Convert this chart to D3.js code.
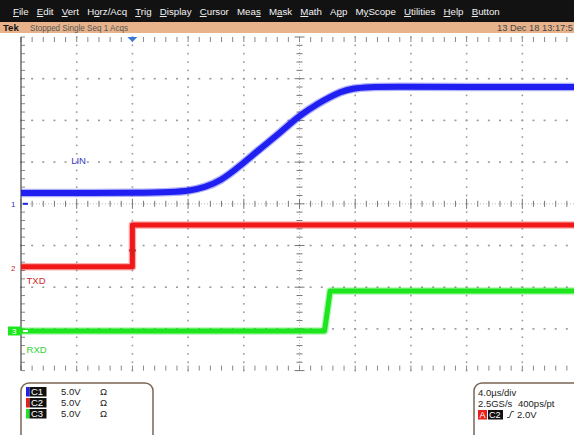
<!doctype html>
<html>
<head>
<meta charset="utf-8">
<style>
  body { margin: 0; background: #fff; }
  svg { display: block; font-family: "Liberation Sans", Arial, sans-serif; }
</style>
<script src="https://d3js.org/d3.v7.min.js"></script>
</head>
<body>
<svg width="574" height="435" id="scope"></svg>
<script>
// ---- data (time in us from trigger, volts) ----
var menuItems = ["File", "Edit", "Vert", "Horz/Acq", "Trig", "Display", "Cursor", "Meas", "Mask", "Math", "App", "MyScope", "Utilities", "Help", "Button"];
var menuKeys  = [0, 0, 0, 1, 0, 0, 0, 3, 1, 0, 1, 1, 0, 0, 0];

var linTime  = [-8, 1.2, 2.7, 4.1, 5.2, 6.3, 7.7, 9.1, 10.6, 12.0, 13.4, 14.2, 14.9, 15.8, 17.0, 18.5, 24, 32];
var linVolts = [1.3, 1.3, 1.4, 1.55, 2.0, 2.7, 4.5, 6.5, 8.5, 10.6, 12.1, 12.8, 13.4, 13.85, 14.0, 14.05, 14.0, 14.0];

var txdTime  = [-8, 0, 0, 32];
var txdVolts = [0.1, 0.1, 5.1, 5.1];

var rxdTime  = [-8, 13.8, 14.2, 32];
var rxdVolts = [0, 0, 4.8, 4.8];

var channels = ["C1", "C2", "C3"];
var chNames  = ["LIN", "TXD", "RXD"];
var chScale  = ["5.0V", "5.0V", "5.0V"];
var chOffset = [0, -1.53, -3.05];   // ground marker, in divisions
var horzInfo = ["4.0\u00b5s/div", "2.5GS/s", "400ps/pt"];
var trigLevel = 2.0;

var colors = { C1: "#1f1ff2", C2: "#f01818", C3: "#1ee61e" };
var labelColors = { C1: "#3535c8", C2: "#cc2a2a", C3: "#2fd02f" };

var svg = d3.select("#scope");

// screen: 10 x 8 divisions
var plotLeft = 21, plotTop = 37, divW = 55.7, divH = 41.7;
var x = d3.scaleLinear().domain([-8, 32]).range([plotLeft, plotLeft + 10 * divW]);
var y = d3.scaleLinear().domain([-4, 4]).range([plotTop + 8 * divH, plotTop]);
function vy(ch, v) { return y(v / 5 + chOffset[ch]); }

// ---- menu bar ----
svg.append("rect").attr("x", 0).attr("y", 0).attr("width", 574).attr("height", 22).attr("fill", "#121212");
var mx = 13;
menuItems.forEach(function(m, i) {
  var t = svg.append("text").attr("x", mx).attr("y", 15).attr("fill", "#f2f2f2").attr("font-size", "9.7px");
  var k = menuKeys[i];
  if (k > 0) t.append("tspan").text(m.slice(0, k));
  t.append("tspan").attr("text-decoration", "underline").text(m.slice(k, k + 1));
  t.append("tspan").text(m.slice(k + 1));
  mx += t.node().getComputedTextLength() + 8.2;
});

// ---- status bar ----
svg.append("rect").attr("x", 0).attr("y", 22).attr("width", 574).attr("height", 11).attr("fill", "#e8b38b");
svg.append("text").attr("x", 3).attr("y", 31).attr("font-size", "9.5px").attr("font-weight", "bold").attr("fill", "#111").text("Tek");
svg.append("text").attr("x", 30).attr("y", 31).attr("font-size", "9.5px").attr("fill", "#555")
  .attr("textLength", 98).attr("lengthAdjust", "spacingAndGlyphs").text("Stopped Single Seq 1 Acqs");
svg.append("text").attr("x", 497).attr("y", 31).attr("font-size", "9.5px").attr("fill", "#444")
  .attr("textLength", 76).attr("lengthAdjust", "spacingAndGlyphs").text("13 Dec 18 13:17:5");

// ---- graticule ----
var g = svg.append("g");
var majX = d3.range(-8, 32.01, 4), minX = d3.range(-8, 32.01, 0.8);
var majY = d3.range(-4, 4.01, 1),  minY = d3.range(-4, 4.01, 0.2);
var gridCol = "#9a9a9a";

// dotted division lines
majY.forEach(function(d) {
  if (d === 0 || d === 4 || d === -4) return;
  minX.forEach(function(t) {
    g.append("rect").attr("x", x(t) - 1).attr("y", y(d) - 0.8).attr("width", 2).attr("height", 1.6).attr("fill", gridCol);
  });
});
majX.forEach(function(t) {
  if (t === 12 || t === -8) return;
  minY.forEach(function(d) {
    g.append("rect").attr("x", x(t) - 0.8).attr("y", y(d) - 0.8).attr("width", 1.6).attr("height", 1.6).attr("fill", gridCol);
  });
});

// centre lines with ticks
g.append("line").attr("x1", x(-8)).attr("x2", x(32)).attr("y1", y(0)).attr("y2", y(0)).attr("stroke", "#bbb").attr("stroke-dasharray", "1,2");
g.append("line").attr("x1", x(12)).attr("x2", x(12)).attr("y1", y(4)).attr("y2", y(-4)).attr("stroke", "#bbb").attr("stroke-dasharray", "1,2");
minX.forEach(function(t, i) {
  var h = i % 5 === 0 ? 5 : 3;
  g.append("line").attr("x1", x(t)).attr("x2", x(t)).attr("y1", y(0) - h).attr("y2", y(0) + h).attr("stroke", "#777");
  g.append("line").attr("x1", x(t)).attr("x2", x(t)).attr("y1", y(4)).attr("y2", y(4) + 5).attr("stroke", "#888");
  g.append("line").attr("x1", x(t)).attr("x2", x(t)).attr("y1", y(-4)).attr("y2", y(-4) - 5).attr("stroke", "#888");
});
minY.forEach(function(d, i) {
  var h = i % 5 === 0 ? 5 : 3;
  g.append("line").attr("x1", x(12) - h).attr("x2", x(12) + h).attr("y1", y(d)).attr("y2", y(d)).attr("stroke", "#777");
  g.append("line").attr("x1", x(-8)).attr("x2", x(-8) + 4).attr("y1", y(d)).attr("y2", y(d)).attr("stroke", "#888");
});
g.append("line").attr("x1", x(-8)).attr("x2", x(-8)).attr("y1", y(4)).attr("y2", y(-4)).attr("stroke", "#555").attr("stroke-width", 1.3);

// ---- traces ----
svg.append("clipPath").attr("id", "plot").append("rect")
  .attr("x", plotLeft).attr("y", plotTop).attr("width", 574 - plotLeft).attr("height", 8 * divH);
var traces = svg.append("g").attr("clip-path", "url(#plot)");

function drawTrace(ch, times, volts, width) {
  var pts = times.map(function(t, i) { return [t, volts[i]]; });
  var line = d3.line().x(function(d) { return x(d[0]); }).y(function(d) { return vy(ch, d[1]); });
  if (ch === 0) line.curve(d3.curveBasis);
  var col = colors[channels[ch]];
  // faint halo for the noisy band edge, then the solid band
  traces.append("path").attr("d", line(pts)).attr("fill", "none")
    .attr("stroke", col).attr("stroke-opacity", 0.35).attr("stroke-width", width + 2.5).attr("stroke-linejoin", "round");
  traces.append("path").attr("d", line(pts)).attr("fill", "none")
    .attr("stroke", col).attr("stroke-width", width).attr("stroke-linejoin", "round");
}
drawTrace(0, linTime, linVolts, 6);
drawTrace(1, txdTime, txdVolts, 5);
drawTrace(2, rxdTime, rxdVolts, 5);
// thin edge on the TXD step
traces.append("line").attr("x1", x(0)).attr("x2", x(0)).attr("y1", vy(1, txdVolts[0])).attr("y2", vy(1, txdVolts[2]))
  .attr("stroke", colors.C2).attr("stroke-width", 1.2);

// channel labels
var labelPos = [[-4.4, 4.75], [-7.6, -1.95], [-7.6, -2.6]];
chNames.forEach(function(n, i) {
  svg.append("text").attr("x", x(labelPos[i][0])).attr("y", vy(i, labelPos[i][1]))
    .attr("font-size", "9.5px").attr("fill", labelColors[channels[i]]).text(n);
});

// ground markers
chOffset.forEach(function(o, i) {
  var yy = y(o), c = colors[channels[i]];
  if (i === 2) {
    svg.append("rect").attr("x", 8).attr("y", yy - 4.5).attr("width", 13).attr("height", 9).attr("fill", c);
    svg.append("text").attr("x", 12).attr("y", yy + 3).attr("font-size", "8px").attr("fill", "#fff").text(i + 1);
  } else {
    svg.append("text").attr("x", 11).attr("y", yy + 3).attr("font-size", "8px").attr("fill", labelColors[channels[i]]).text(i + 1);
  }
  svg.append("path").attr("d", "M" + (plotLeft + 2) + "," + yy + "h5").attr("stroke", i === 2 ? "#fff" : c).attr("stroke-width", 2);
});

// trigger markers
svg.append("path").attr("d", "M" + (x(0) - 5) + "," + plotTop + "h10l-5,5z").attr("fill", "#3a78d6");
var ty = vy(1, trigLevel);
svg.append("path").attr("d", "M" + (x(0) - 3.5) + "," + (ty - 1.5) + "h7v2h-2.5v4h-2v-4h-2.5z").attr("fill", "#d42020");

// ---- readout boxes ----
svg.append("rect").attr("x", 21).attr("y", 383).attr("width", 132).attr("height", 62).attr("rx", 8)
  .attr("fill", "none").attr("stroke", "#7b6655").attr("stroke-width", 1.5);
channels.forEach(function(c, i) {
  var yy = 391 + i * 11;
  svg.append("rect").attr("x", 26).attr("y", yy - 4).attr("width", 3.5).attr("height", 9.5).attr("fill", colors[c]);
  svg.append("rect").attr("x", 29.5).attr("y", yy - 4).attr("width", 17).attr("height", 9.5).attr("fill", "#111");
  svg.append("text").attr("x", 31).attr("y", yy + 4).attr("font-size", "9.5px").attr("fill", "#fff").text(c);
  svg.append("text").attr("x", 61).attr("y", yy + 4).attr("font-size", "9.5px").attr("fill", "#222").text(chScale[i]);
  svg.append("text").attr("x", 100).attr("y", yy + 4).attr("font-size", "9.5px").attr("fill", "#222").text("\u03a9");
});

svg.append("rect").attr("x", 474).attr("y", 383).attr("width", 120).attr("height", 62).attr("rx", 8)
  .attr("fill", "none").attr("stroke", "#7b6655").attr("stroke-width", 1.5);
svg.append("text").attr("x", 478).attr("y", 396).attr("font-size", "9.5px").attr("fill", "#222").text(horzInfo[0]);
svg.append("text").attr("x", 478).attr("y", 407).attr("font-size", "9.5px").attr("fill", "#222").text(horzInfo[1]);
svg.append("text").attr("x", 518).attr("y", 407).attr("font-size", "9.5px").attr("fill", "#222").text(horzInfo[2]);
svg.append("rect").attr("x", 478).attr("y", 410).attr("width", 9).attr("height", 9.5).attr("fill", "#e8201c");
svg.append("text").attr("x", 479.5).attr("y", 418).attr("font-size", "9px").attr("fill", "#fff").text("A");
svg.append("rect").attr("x", 488).attr("y", 410).attr("width", 15).attr("height", 9.5).attr("fill", "#111");
svg.append("text").attr("x", 489).attr("y", 418).attr("font-size", "9px").attr("fill", "#fff").text("C2");
svg.append("path").attr("d", "M507,417.5h2.5l2,-6h2.5").attr("fill", "none").attr("stroke", "#333").attr("stroke-width", 0.9);
svg.append("text").attr("x", 517).attr("y", 418).attr("font-size", "9.5px").attr("fill", "#222").text(trigLevel.toFixed(1) + "V");
</script>
</body>
</html>
